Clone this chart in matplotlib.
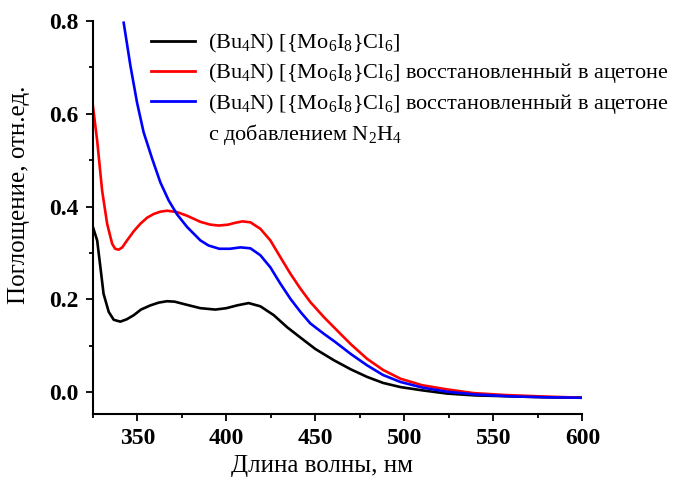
import matplotlib
matplotlib.use('Agg')
import matplotlib.pyplot as plt
from matplotlib.lines import Line2D
from matplotlib.ticker import MultipleLocator

plt.rcParams['font.family'] = ['Liberation Serif', 'DejaVu Serif']
plt.rcParams['mathtext.fontset'] = 'custom'
plt.rcParams['mathtext.rm'] = 'Liberation Serif'
plt.rcParams['mathtext.it'] = 'Liberation Serif'

# black: initial compound
wl_black = [325, 327.4, 329.2, 331, 333.9, 336.7, 340.4, 344, 348, 352, 357.3, 362, 366.7,
            371, 376, 385.4, 393.8, 400, 406, 412.5, 419.1, 426.6, 434.1, 442.5, 450, 460.3,
            470, 479, 488, 497.8, 510, 524, 540, 560, 580, 600]
abs_black = [0.356, 0.327, 0.27, 0.212, 0.173, 0.156, 0.152, 0.157, 0.166, 0.178, 0.187,
             0.193, 0.196, 0.195, 0.19, 0.181, 0.178, 0.181, 0.187, 0.192, 0.185, 0.166,
             0.14, 0.115, 0.093, 0.069, 0.049, 0.033, 0.02, 0.011, 0.004, -0.003, -0.007,
             -0.009, -0.011, -0.012]

# red: reduced in acetone
wl_red = [325, 327.4, 330.2, 333, 335.8, 337.5, 339.5, 341.5, 344.2, 348, 351.7, 355.5,
          359.2, 363, 366.7, 372.3, 378, 385.4, 391, 395.7, 401, 405, 409, 413.5, 419.1,
          424.7, 430.3, 436, 441.6, 447.2, 454.7, 464, 470, 479, 488, 497.8, 510, 524,
          539, 556, 576, 600]
abs_red = [0.617, 0.542, 0.434, 0.363, 0.32, 0.309, 0.307, 0.312, 0.327, 0.347, 0.363,
           0.376, 0.384, 0.389, 0.391, 0.388, 0.38, 0.367, 0.361, 0.359, 0.361, 0.365,
           0.368, 0.366, 0.352, 0.327, 0.291, 0.255, 0.223, 0.194, 0.162, 0.126, 0.103,
           0.072, 0.048, 0.029, 0.015, 0.006, -0.002, -0.006, -0.009, -0.012]

# blue: reduced in acetone + N2H4
wl_blue = [342.3, 346.1, 349.8, 353.5, 358.3, 362.9, 367.6, 372.3, 377.9, 385.4, 390, 396,
           402, 407.9, 413.5, 419.1, 424.7, 430.3, 436, 441.6, 447.2, 454.7, 461.2, 470,
           479, 488, 497.8, 510, 524, 540, 560, 580, 600]
abs_blue = [0.796, 0.703, 0.624, 0.56, 0.503, 0.452, 0.413, 0.383, 0.356, 0.327, 0.316,
            0.309, 0.309, 0.312, 0.31, 0.295, 0.269, 0.234, 0.201, 0.173, 0.148, 0.126,
            0.108, 0.082, 0.058, 0.037, 0.022, 0.01, 0.001, -0.005, -0.009, -0.011, -0.012]

labels = [r'(Bu$_4$N) [{Mo$_6$I$_8$}Cl$_6$]',
          r'(Bu$_4$N) [{Mo$_6$I$_8$}Cl$_6$] восстановленный в ацетоне',
          r'(Bu$_4$N) [{Mo$_6$I$_8$}Cl$_6$] восстановленный в ацетоне',
          r'с добавлением N$_2$H$_4$']

fig = plt.figure(figsize=(6.78, 4.8), dpi=100)
ax = fig.add_axes([0.137, 0.1375, 0.722, 0.819])

ax.plot(wl_black, abs_black, color='black', lw=1.9)
ax.plot(wl_red, abs_red, color='red', lw=1.9)
ax.plot(wl_blue, abs_blue, color='blue', lw=1.9)

ax.set_xlim(325, 600)
ax.set_ylim(-0.047, 0.8)
ax.xaxis.set_major_locator(MultipleLocator(50))
ax.xaxis.set_minor_locator(MultipleLocator(25))
ax.yaxis.set_minor_locator(MultipleLocator(0.1))
ax.set_yticks([0.0, 0.2, 0.4, 0.6, 0.8])
ax.set_yticklabels(['0.0', '0.2', '0.4', '0.6', '0.8'])

for s in ['top', 'right']:
    ax.spines[s].set_visible(False)
for s in ['left', 'bottom']:
    ax.spines[s].set_linewidth(1.5)
ax.tick_params(which='major', direction='out', length=5, width=1.3, labelsize=17, pad=5)
ax.tick_params(which='minor', direction='out', length=3, width=1.3)
for t in ax.get_xticklabels() + ax.get_yticklabels():
    t.set_fontweight('bold')

ax.set_xlabel('Длина волны, нм', fontsize=18)
ax.set_ylabel('Поглощение, отн.ед.', fontsize=18)
ax.xaxis.set_label_coords(0.469, -0.105)
ax.yaxis.set_label_coords(-0.128, 0.557)

handles = [Line2D([], [], color='black', lw=2),
           Line2D([], [], color='red', lw=2),
           Line2D([], [], color='blue', lw=2),
           Line2D([], [], color='none')]
fig.legend(handles, labels, loc='upper left', bbox_to_anchor=(0.222, 0.933),
           frameon=False, fontsize=16, handlelength=2.0, handletextpad=0.58,
           labelspacing=0.28, borderpad=0, borderaxespad=0)

fig.savefig('out.png', dpi=100)
